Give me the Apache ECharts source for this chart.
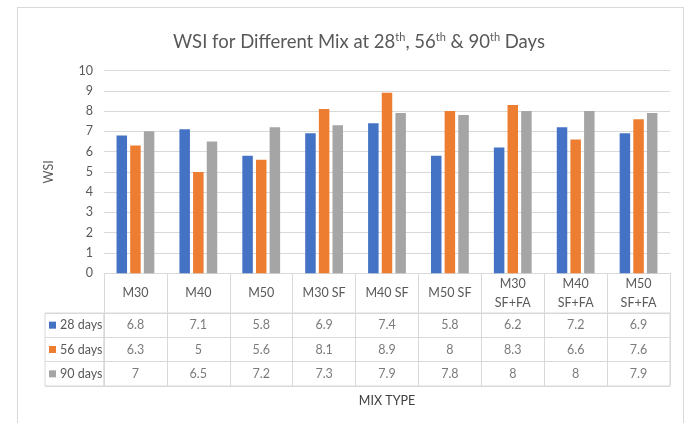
<!DOCTYPE html>
<html>
<head>
<meta charset="utf-8">
<script src="https://cdn.jsdelivr.net/npm/echarts@6/dist/echarts.min.js"></script>
<style>
html,body{margin:0;padding:0;background:#fff;}
#frame{position:absolute;left:17px;top:7px;width:667px;height:430px;border:1.5px solid #d9d9d9;box-sizing:border-box;pointer-events:none;}
#chart{position:absolute;left:0;top:0;width:693px;height:423px;}
</style>
</head>
<body>
<div id="chart"></div>
<div id="frame"></div>
<script>
const categories = ['M30','M40','M50','M30 SF','M40 SF','M50 SF','M30\nSF+FA','M40\nSF+FA','M50\nSF+FA'];
const seriesNames = ['28 days','56 days','90 days'];
const days28 = [6.8, 7.1, 5.8, 6.9, 7.4, 5.8, 6.2, 7.2, 6.9];
const days56 = [6.3, 5, 5.6, 8.1, 8.9, 8, 8.3, 6.6, 7.6];
const days90 = [7, 6.5, 7.2, 7.3, 7.9, 7.8, 8, 8, 7.9];
const yTicks = [0,1,2,3,4,5,6,7,8,9,10];

const colors = ['#4472C4','#ED7D31','#A5A5A5'];
const allVals = [days28, days56, days90];
const FONT = 'Lato';
const GRID = '#d9d9d9';
const TXT = '#595959';

const chart = echarts.init(document.getElementById('chart'));

const barSeries = allVals.map((vals, s) => ({
  name: seriesNames[s],
  type: 'bar',
  xAxisIndex: 0, yAxisIndex: 0,
  data: vals,
  barWidth: 10.5,
  barGap: '30%',
  itemStyle: { color: colors[s] },
  silent: true
}));

const tableSeries = allVals.map((vals, s) => ({
  name: seriesNames[s] + ' table',
  type: 'scatter',
  xAxisIndex: 1, yAxisIndex: 1,
  symbolSize: 1,
  itemStyle: { color: 'rgba(0,0,0,0)' },
  data: vals.map((v, i) => [categories[i], seriesNames[s], v]),
  label: {
    show: true, position: 'inside',
    formatter: p => String(p.value[2]),
    fontFamily: FONT, fontSize: 12.5, color: TXT
  },
  silent: true
}));

const option = {
  animation: false,
  title: {
    text: 'WSI for Different Mix at 28{s|th}, 56{s|th} & 90{s|th} Days',
    left: 354, top: 27, textAlign: 'center',
    textStyle: {
      fontFamily: FONT, fontSize: 18.5, fontWeight: 'normal', color: TXT,
      rich: { s: { fontFamily: FONT, fontSize: 11, color: TXT, padding: [0,0,9,0] } }
    }
  },
  grid: [
    { left: 104, right: 23, top: 70.5, height: 202.8 },
    { left: 104, right: 23, top: 313, height: 73, show: true, borderColor: GRID, borderWidth: 1 },
    { left: 45, width: 59, top: 313, height: 73, show: true, borderColor: GRID, borderWidth: 1 }
  ],
  xAxis: [
    {
      gridIndex: 0, type: 'category', data: categories,
      axisLine: { show: true, lineStyle: { color: GRID, width: 1 } },
      axisTick: { show: true, length: 40, lineStyle: { color: GRID, width: 1 } },
      axisLabel: { fontFamily: FONT, fontSize: 12.5, color: TXT, margin: 20, verticalAlign: 'middle', lineHeight: 19, interval: 0 }
    },
    {
      gridIndex: 1, type: 'category', data: categories,
      axisLine: { show: false }, axisTick: { show: false }, axisLabel: { show: false },
      splitLine: { show: true, interval: 0, lineStyle: { color: GRID, width: 1 } },
      name: 'MIX TYPE', nameLocation: 'middle', nameGap: 8,
      nameTextStyle: { fontFamily: FONT, fontSize: 12.5, color: '#404040' }
    },
    { gridIndex: 2, type: 'value', show: false, min: 0, max: 1 }
  ],
  yAxis: [
    {
      gridIndex: 0, type: 'value', min: yTicks[0], max: yTicks[yTicks.length-1], interval: 1,
      axisLine: { show: false }, axisTick: { show: false },
      axisLabel: { fontFamily: FONT, fontSize: 12.5, color: TXT, margin: 11 },
      splitLine: { lineStyle: { color: GRID, width: 1 } },
      name: 'WSI', nameLocation: 'middle', nameGap: 49, nameRotate: 90,
      nameTextStyle: { fontFamily: FONT, fontSize: 12.5, color: TXT }
    },
    {
      gridIndex: 1, type: 'category', data: seriesNames, inverse: true,
      axisLine: { show: false }, axisTick: { show: false }, axisLabel: { show: false },
      splitLine: { show: true, interval: 0, lineStyle: { color: GRID, width: 1 } }
    },
    {
      gridIndex: 2, type: 'category', data: seriesNames, inverse: true,
      axisLine: { show: false }, axisTick: { show: false },
      splitLine: { show: true, interval: 0, lineStyle: { color: GRID, width: 1 } },
      axisLabel: {
        inside: true, margin: 4, align: 'left',
        formatter: (v, i) => '{q' + i + '|}{t|' + v + '}',
        rich: {
          q0: { width: 7, height: 7, backgroundColor: colors[0] },
          q1: { width: 7, height: 7, backgroundColor: colors[1] },
          q2: { width: 7, height: 7, backgroundColor: colors[2] },
          t: { fontFamily: FONT, fontSize: 12.5, color: TXT, padding: [0,0,0,4] }
        }
      }
    }
  ],
  series: barSeries.concat(tableSeries)
};
chart.setOption(option);
</script>
</body>
</html>
